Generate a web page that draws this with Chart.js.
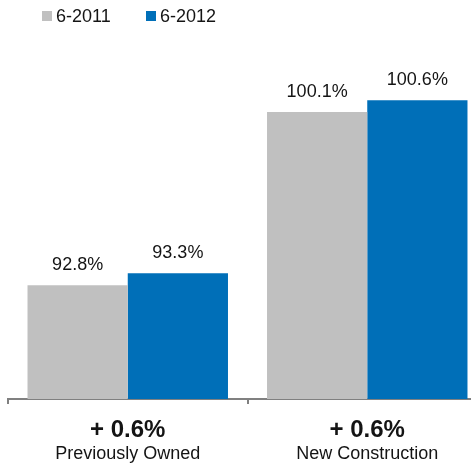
<!DOCTYPE html>
<html>
<head>
<meta charset="utf-8">
<script src="https://cdn.jsdelivr.net/npm/chart.js@4/dist/chart.umd.min.js"></script>
<style>
  html, body { margin: 0; padding: 0; background: #fff; overflow: hidden; }
  canvas { display: block; }
</style>
</head>
<body>
<canvas id="chart" width="490" height="469"></canvas>
<script>
  // data
  const categories = ['Previously Owned', 'New Construction'];
  const changeLabels = ['+ 0.6%', '+ 0.6%'];
  const seriesNames = ['6-2011', '6-2012'];
  const values2011 = [92.8, 100.1];
  const values2012 = [93.3, 100.6];

  const GRAY = '#c0c0c0';
  const BLUE = '#006fb8';
  const TEXT = '#141414';
  const AXIS = '#808080';
  const FONT = '"Liberation Sans", Arial, Helvetica, sans-serif';

  // percentages above each bar
  const valueLabels = {
    id: 'valueLabels',
    afterDatasetsDraw(chart) {
      const ctx = chart.ctx;
      ctx.save();
      ctx.font = '18px ' + FONT;
      ctx.fillStyle = TEXT;
      ctx.textAlign = 'center';
      ctx.textBaseline = 'alphabetic';
      chart.data.datasets.forEach((ds, i) => {
        chart.getDatasetMeta(i).data.forEach((bar, j) => {
          ctx.fillText(ds.data[j].toFixed(1) + '%', bar.x, bar.y - 15.5);
        });
      });
      ctx.restore();
    }
  };

  // two-line category labels under the axis (bold change + name)
  const categoryLabels = {
    id: 'categoryLabels',
    afterDraw(chart) {
      const ctx = chart.ctx;
      const xs = chart.scales.x;
      ctx.save();
      ctx.fillStyle = TEXT;
      ctx.textAlign = 'center';
      ctx.textBaseline = 'alphabetic';
      categories.forEach((c, i) => {
        const x = xs.getPixelForValue(i);
        ctx.font = 'bold 24px ' + FONT;
        ctx.fillText(changeLabels[i], x, 437);
        ctx.font = '18px ' + FONT;
        ctx.fillText(c, x, 459);
      });
      ctx.restore();
    }
  };

  // simple square-marker legend at top left
  const topLegend = {
    id: 'topLegend',
    afterDraw(chart) {
      const ctx = chart.ctx;
      ctx.save();
      ctx.font = '18px ' + FONT;
      ctx.textBaseline = 'alphabetic';
      let x = 42;
      chart.data.datasets.forEach(ds => {
        ctx.fillStyle = ds.backgroundColor;
        ctx.fillRect(x, 11, 10, 10);
        ctx.fillStyle = TEXT;
        ctx.fillText(ds.label, x + 14, 22);
        x += 104;
      });
      ctx.restore();
    }
  };

  new Chart(document.getElementById('chart'), {
    type: 'bar',
    data: {
      labels: categories,
      datasets: [
        { label: seriesNames[0], data: values2011, backgroundColor: GRAY },
        { label: seriesNames[1], data: values2012, backgroundColor: BLUE }
      ]
    },
    options: {
      responsive: false,
      animation: false,
      layout: { padding: { left: 8, right: 3, top: 67, bottom: 65 } },
      datasets: { bar: { categoryPercentage: 0.837, barPercentage: 1.0 } },
      plugins: {
        legend: { display: false },
        tooltip: { enabled: false }
      },
      scales: {
        x: {
          offset: true,
          grid: {
            display: true,
            offset: true,
            drawOnChartArea: false,
            drawTicks: true,
            tickLength: 5,
            color: AXIS,
            lineWidth: 2
          },
          border: { display: true, color: AXIS, width: 2 },
          ticks: { display: false }
        },
        y: {
          display: false,
          min: 88,
          max: 102
        }
      }
    },
    plugins: [valueLabels, categoryLabels, topLegend]
  });
</script>
</body>
</html>
